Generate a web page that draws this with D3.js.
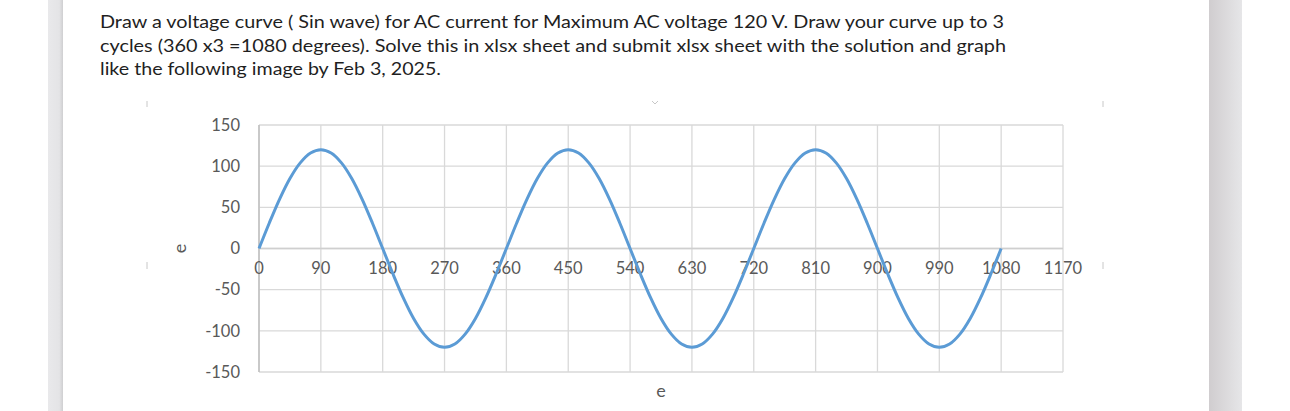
<!DOCTYPE html>
<html>
<head>
<meta charset="utf-8">
<script src="https://cdn.jsdelivr.net/npm/d3@7"></script>
<style>
  html, body { margin: 0; padding: 0; background: #fff; }
  svg { display: block; }
</style>
</head>
<body>
<svg id="chart" width="1290" height="411"></svg>
<script>
// ---- data ----
const headingLines = [
  "Draw a voltage curve ( Sin wave) for AC current for Maximum AC voltage 120 V. Draw your curve up to 3",
  "cycles (360 x3 =1080 degrees). Solve this in xlsx sheet and submit xlsx sheet with the solution and graph",
  "like the following image by Feb 3, 2025."
];
const angles = [
  0, 15, 30, 45, 60, 75, 90, 105, 120, 135, 150, 165,
  180, 195, 210, 225, 240, 255, 270, 285, 300, 315, 330, 345,
  360, 375, 390, 405, 420, 435, 450, 465, 480, 495, 510, 525,
  540, 555, 570, 585, 600, 615, 630, 645, 660, 675, 690, 705,
  720, 735, 750, 765, 780, 795, 810, 825, 840, 855, 870, 885,
  900, 915, 930, 945, 960, 975, 990, 1005, 1020, 1035, 1050, 1065,
  1080
];
const voltage = [
  0, 31, 60, 85, 104, 116, 120, 116, 104, 85, 60, 31,
  0, -31, -60, -85, -104, -116, -120, -116, -104, -85, -60, -31,
  0, 31, 60, 85, 104, 116, 120, 116, 104, 85, 60, 31,
  0, -31, -60, -85, -104, -116, -120, -116, -104, -85, -60, -31,
  0, 31, 60, 85, 104, 116, 120, 116, 104, 85, 60, 31,
  0, -31, -60, -85, -104, -116, -120, -116, -104, -85, -60, -31,
  0
];
const xTicks = [0, 90, 180, 270, 360, 450, 540, 630, 720, 810, 900, 990, 1080, 1170];
const yTicks = [-150, -100, -50, 0, 50, 100, 150];
const xTitle = "e";
const yTitle = "e";

// ---- drawing ----
const svg = d3.select("#chart");
const defs = svg.append("defs");

const gL = defs.append("linearGradient").attr("id", "gL");
gL.append("stop").attr("offset", "0").attr("stop-color", "#e9e9eb");
gL.append("stop").attr("offset", "0.75").attr("stop-color", "#e4e4e6");
gL.append("stop").attr("offset", "1").attr("stop-color", "#cfcfd1");
const gR = defs.append("linearGradient").attr("id", "gR");
gR.append("stop").attr("offset", "0").attr("stop-color", "#d0cdcf");
gR.append("stop").attr("offset", "1").attr("stop-color", "#e6e6e8");

svg.append("rect").attr("x", 48).attr("y", 0).attr("width", 15).attr("height", 411).attr("fill", "url(#gL)");
svg.append("rect").attr("x", 1209).attr("y", 0).attr("width", 33).attr("height", 411).attr("fill", "url(#gR)");

// heading text
const lineEnds = [1004, 1006, 441];
const heading = svg.append("g")
  .attr("font-family", "Lato, 'Open Sans', sans-serif")
  .attr("font-size", 18)
  .attr("fill", "#1f1f1f");
headingLines.forEach((t, i) => {
  heading.append("text")
    .attr("x", 100)
    .attr("y", 28 + i * 23.5)
    .attr("textLength", lineEnds[i] - 100)
    .attr("lengthAdjust", "spacingAndGlyphs")
    .text(t);
});

// chart frame handles (faint)
[[147, 101, 147, 107], [1103, 101, 1103, 107], [147, 262, 147, 269], [1103, 262, 1103, 269]].forEach(d => {
  svg.append("line").attr("x1", d[0]).attr("y1", d[1]).attr("x2", d[2]).attr("y2", d[3])
    .attr("stroke", "#c8c8c8").attr("stroke-width", 1);
});
svg.append("path").attr("d", "M652,101 L655,104 L658,101")
  .attr("fill", "none").attr("stroke", "#c8c8c8").attr("stroke-width", 1);

const x = d3.scaleLinear().domain([0, 1170]).range([259, 1063]);
const y = d3.scaleLinear().domain([-150, 150]).range([372, 125]);

const grid = svg.append("g");
grid.selectAll("line.h").data(yTicks).join("line")
  .attr("x1", x(0)).attr("x2", x(1170))
  .attr("y1", d => y(d)).attr("y2", d => y(d))
  .attr("stroke", "#d9d9d9").attr("stroke-width", 1.3);
grid.selectAll("line.v").data(xTicks).join("line")
  .attr("x1", d => x(d)).attr("x2", d => x(d))
  .attr("y1", y(150)).attr("y2", y(-150))
  .attr("stroke", "#d9d9d9").attr("stroke-width", 1.3);

// axis lines
svg.append("line").attr("x1", x(0)).attr("x2", x(0)).attr("y1", y(150)).attr("y2", y(-150))
  .attr("stroke", "#bfbfbf").attr("stroke-width", 1.5);
svg.append("line").attr("x1", x(0)).attr("x2", x(1170)).attr("y1", y(0)).attr("y2", y(0))
  .attr("stroke", "#cfcfcf").attr("stroke-width", 1.3);

// tick labels
const lab = svg.append("g")
  .attr("font-family", "Lato, 'Open Sans', sans-serif")
  .attr("font-size", 16.5)
  .attr("fill", "#595959");
lab.selectAll("text.y").data(yTicks).join("text")
  .attr("x", 240).attr("y", d => y(d)).attr("dy", "0.35em")
  .attr("text-anchor", "end").text(d => d);
lab.selectAll("text.x").data(xTicks).join("text")
  .attr("x", d => x(d)).attr("y", y(0) + 25)
  .attr("text-anchor", "middle").text(d => d);

// axis titles
lab.append("text").attr("x", x(585)).attr("y", 397).attr("font-size", 18)
  .attr("text-anchor", "middle").text(xTitle);
lab.append("text").attr("transform", `translate(186,${y(0)}) rotate(-90)`).attr("font-size", 18)
  .attr("text-anchor", "middle").text(yTitle);

// series
const pts = angles.map((a, i) => [a, voltage[i]]);
const line = d3.line().x(d => x(d[0])).y(d => y(d[1])).curve(d3.curveCatmullRom.alpha(0.5));
svg.append("path").datum(pts)
  .attr("d", line)
  .attr("fill", "none")
  .attr("stroke", "#5b9bd5")
  .attr("stroke-width", 3)
  .attr("stroke-linejoin", "round");
</script>
</body>
</html>
